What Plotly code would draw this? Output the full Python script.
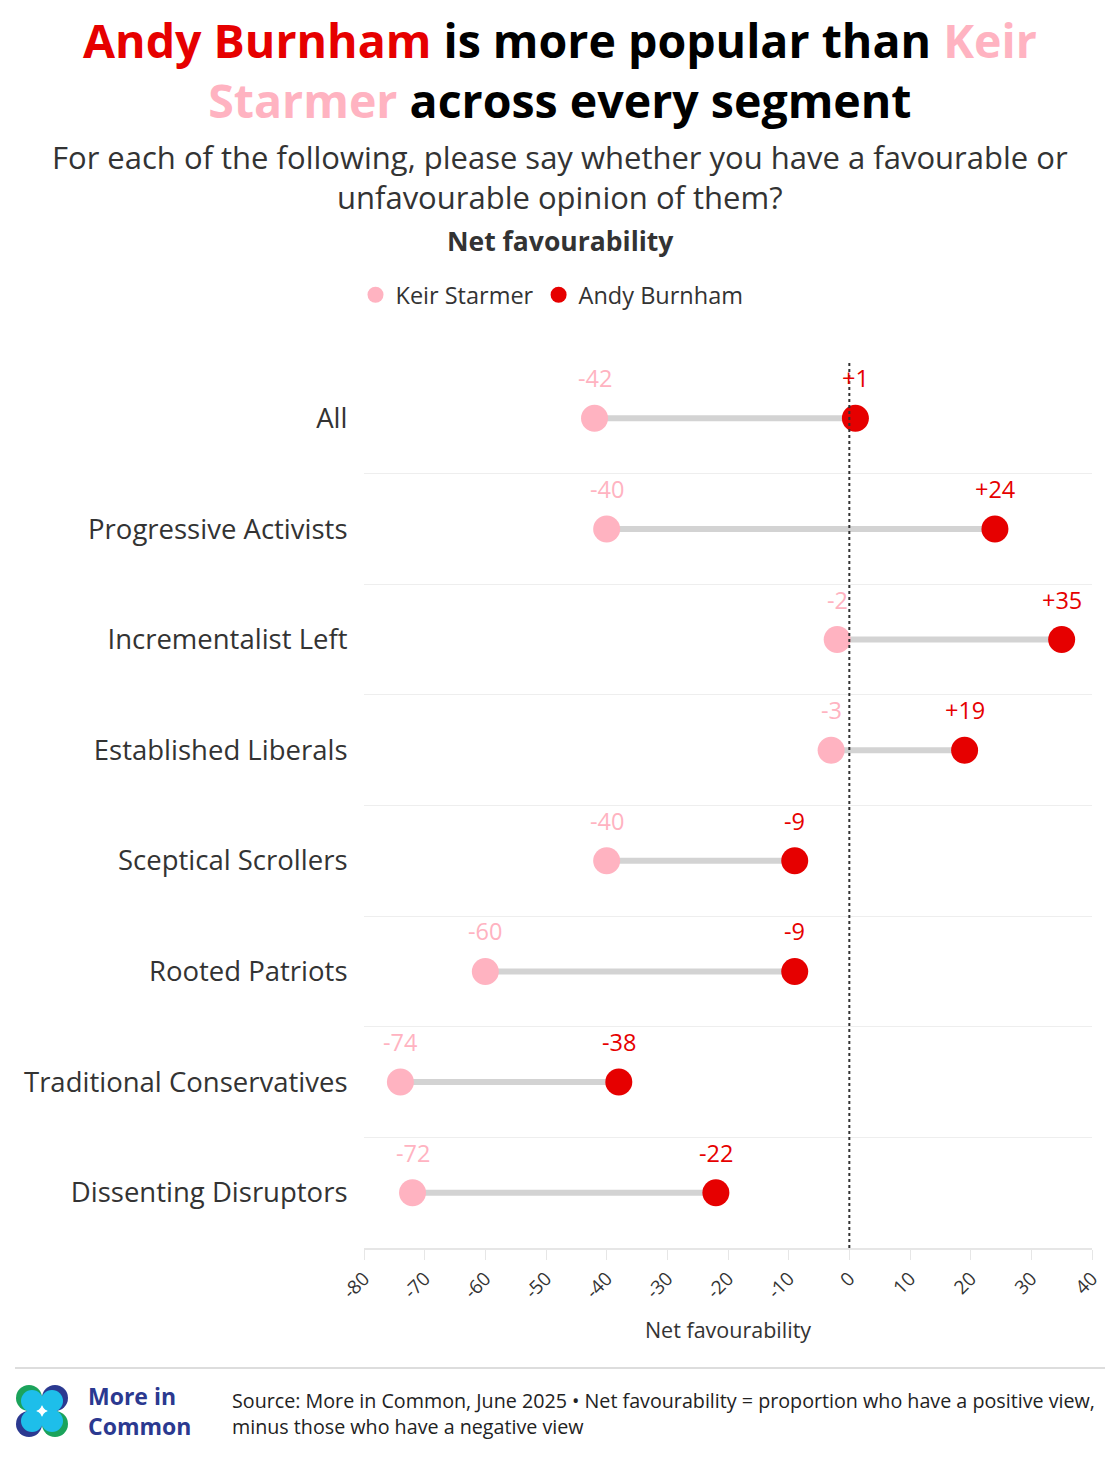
import plotly.graph_objects as go

categories = ["All", "Progressive Activists", "Incrementalist Left", "Established Liberals",
              "Sceptical Scrollers", "Rooted Patriots", "Traditional Conservatives", "Dissenting Disruptors"]
starmer = [-42, -40, -2, -3, -40, -60, -74, -72]
burnham = [1, 24, 35, 19, -9, -9, -38, -22]
x_ticks = [-80, -70, -60, -50, -40, -30, -20, -10, 0, 10, 20, 30, 40]

PINK = "#FFB3C1"
RED = "#E60000"
GREY_TXT = "#333333"
FONT = "Open Sans"

OFF = 8  # page body margin
W, H = 1120 - 2 * OFF, 1462 - 2 * OFF
L = 364 - OFF
R = W - (1092 - OFF)
T = 363 - OFF
B = H - (1248 - OFF)
PW = W - L - R
PH = H - T - B


def py(p):
    return ((H - B) - (p - OFF)) / PH


def px(p):
    return ((p - OFF) - L) / PW


rows = list(range(len(categories)))

fig = go.Figure()

cx, cy = [], []
for i in rows:
    cx += [starmer[i], burnham[i], None]
    cy += [i, i, None]
fig.add_trace(go.Scatter(x=cx, y=cy, mode="lines", line=dict(color="#D3D3D3", width=6),
                         showlegend=False, hoverinfo="skip"))

fig.add_trace(go.Scatter(x=starmer, y=rows, mode="markers", name="Keir Starmer",
                         marker=dict(color=PINK, size=27)))
fig.add_trace(go.Scatter(x=burnham, y=rows, mode="markers", name="Andy Burnham",
                         marker=dict(color=RED, size=27)))


def fmt(v, plus):
    if v > 0 and plus:
        return f"+{v}"
    return f"{v}"


annotations = []
for i in rows:
    annotations.append(dict(x=starmer[i], y=i, xref="x", yref="y", text=fmt(starmer[i], False),
                            showarrow=False, yshift=40, font=dict(family=FONT, size=23.5, color=PINK)))
    annotations.append(dict(x=burnham[i], y=i, xref="x", yref="y", text=fmt(burnham[i], True),
                            showarrow=False, yshift=40, font=dict(family=FONT, size=23.5, color=RED)))


def page_text(x, y, text, size, color=GREY_TXT, xanchor="center", align="center"):
    annotations.append(dict(x=px(x), y=py(y), xref="paper", yref="paper", xanchor=xanchor, yanchor="middle",
                            text=text, align=align, showarrow=False,
                            font=dict(family=FONT, size=size, color=color)))


page_text(560, 70,
          f"<b><span style='color:{RED}'>Andy Burnham</span> is more popular than <span style='color:{PINK}'>Keir</span>"
          f"<br><span style='color:{PINK}'>Starmer</span> across every segment</b>", 46.5, "#000000")
page_text(560, 177, "For each of the following, please say whether you have a favourable or<br>unfavourable opinion of them?", 31)
page_text(560, 241, "<b>Net favourability</b>", 26.5)
page_text(230, 1413, "Source: More in Common, June 2025 • Net favourability = proportion who have a positive view,<br>minus those who have a negative view",
          19.7, "#222222", xanchor="left", align="left")
page_text(86, 1411, "<b>More in<br>Common</b>", 23, "#2B3990", xanchor="left", align="left")

shapes = []
shapes.append(dict(type="line", x0=0, x1=0, xref="x", y0=0, y1=1, yref="paper",
                   line=dict(color="#333333", width=2, dash="dot"), layer="above"))
shapes.append(dict(type="line", x0=px(15), x1=px(1105), xref="paper", y0=py(1368), y1=py(1368), yref="paper",
                   line=dict(color="#DDDDDD", width=2)))

# logo
r = 13
centers = [(29, 1398, "#1BA35B"), (55, 1398, "#2B3990"), (29, 1424, "#2B3990"), (55, 1424, "#1BA35B")]
for (cxp, cyp, col) in centers:
    shapes.append(dict(type="circle", xref="paper", yref="paper",
                       x0=px(cxp - r), x1=px(cxp + r), y0=py(cyp + r), y1=py(cyp - r),
                       fillcolor=col, line=dict(width=0)))
for (cxp, cyp, col) in centers:
    dx = 3 if cxp < 42 else -3
    dy = 3 if cyp < 1411 else -3
    rr = 11
    shapes.append(dict(type="circle", xref="paper", yref="paper",
                       x0=px(cxp + dx - rr), x1=px(cxp + dx + rr), y0=py(cyp + dy + rr), y1=py(cyp + dy - rr),
                       fillcolor="#1EBEEA", line=dict(width=0)))
shapes.append(dict(type="path", xref="paper", yref="paper",
                   path=f"M {px(42)},{py(1405)} L {px(44)},{py(1411)} L {px(42)},{py(1417)} L {px(40)},{py(1411)} Z",
                   fillcolor="white", line=dict(width=0)))
shapes.append(dict(type="path", xref="paper", yref="paper",
                   path=f"M {px(36)},{py(1411)} L {px(42)},{py(1409)} L {px(48)},{py(1411)} L {px(42)},{py(1413)} Z",
                   fillcolor="white", line=dict(width=0)))

fig.update_layout(
    width=W, height=H,
    margin=dict(l=L, r=R, t=T, b=B, autoexpand=False),
    paper_bgcolor="white", plot_bgcolor="white",
    font=dict(family=FONT, color=GREY_TXT),
    showlegend=True,
    legend=dict(orientation="h", x=px(552), xanchor="center",
                y=py(295), yanchor="middle",
                font=dict(family=FONT, size=23.5, color=GREY_TXT),
                itemsizing="trace", itemwidth=30, traceorder="normal", tracegroupgap=0),
    xaxis=dict(range=[-80, 40], tickvals=x_ticks, ticktext=[str(v) for v in x_ticks],
               tickangle=-45, tickfont=dict(family=FONT, size=19, color=GREY_TXT),
               showgrid=False, zeroline=False, showline=True, linecolor="#E6E6E6", linewidth=2,
               ticks="outside", ticklen=10, tickcolor="#E6E6E6", tickwidth=1,
               title=dict(text="Net favourability", font=dict(family=FONT, size=21.5, color=GREY_TXT), standoff=20)),
    yaxis=dict(range=[len(categories) - 0.5, -0.5], tickvals=rows, ticktext=categories,
               tickfont=dict(family=FONT, size=27.5, color=GREY_TXT),
               showgrid=False, zeroline=False, showline=False, ticks="outside", ticklen=10, tickcolor="rgba(0,0,0,0)",
               minor=dict(tickvals=[i + 0.5 for i in rows[:-1]], showgrid=True, gridcolor="#EEEEEE", gridwidth=1)),
    annotations=annotations,
    shapes=shapes,
)

fig.write_html("out.html")
